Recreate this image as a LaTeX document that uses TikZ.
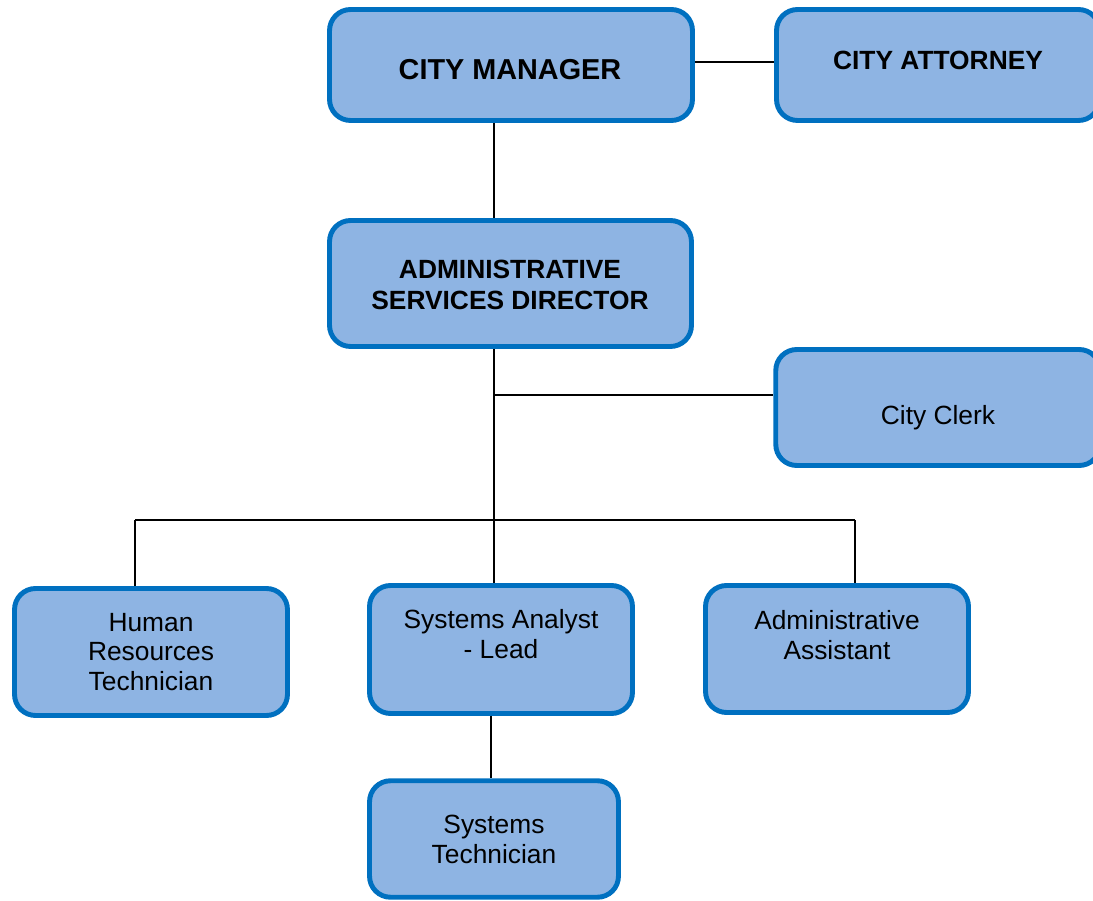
\documentclass[tikz,border=0pt]{standalone}
\usepackage{fontspec}
\setmainfont{Liberation Sans}
\usetikzlibrary{calc}

\definecolor{boxfill}{RGB}{142,180,227}
\definecolor{boxline}{RGB}{0,112,192}

\tikzset{
  box/.style={draw=boxline, fill=boxfill, line width=2.8pt, rounded corners=0.42cm},
  head/.style={font=\bfseries\fontsize{15}{17.5}\selectfont, align=center},
  staff/.style={font=\fontsize{15}{17}\selectfont, align=center},
  link/.style={line width=1.1pt}
}

\begin{document}
\begin{tikzpicture}[x=0.02cm, y=-0.02cm]
  \clip (0,0) rectangle (1093,901);
  %\draw[help lines, step=50] (0,0) grid (1093,901);

  % boxes
  \node[box, minimum width=7.26cm, minimum height=2.22cm] (cm) at (511,65) {};
  \node[box, minimum width=6.46cm, minimum height=2.22cm] (ca) at (938,65) {};
  \node[box, minimum width=7.24cm, minimum height=2.52cm] (asd) at (510.5,283.5) {};
  \node[box, minimum width=6.49cm, minimum height=2.32cm] (cc) at (938,407.5) {};
  \node[box, minimum width=5.46cm, minimum height=2.54cm] (hr) at (151,652) {};
  \node[box, minimum width=5.26cm, minimum height=2.56cm] (sal) at (501,649.5) {};
  \node[box, minimum width=5.26cm, minimum height=2.54cm] (aa) at (837,649) {};
  \node[box, minimum width=4.98cm, minimum height=2.33cm] (st) at (494,839) {};

  % titles
  \node[head, font=\bfseries\fontsize{16.4}{19}\selectfont] (cm-t) at (510,70) {CITY MANAGER};
  \node[head] (ca-t) at (938,60) {CITY ATTORNEY};
  \node[head] (asd-t) at (510,285) {ADMINISTRATIVE\\SERVICES DIRECTOR};
  \node[staff, anchor=base] (cc-t) at (938,425) {City Clerk};
  \node[staff] (hr-t) at (151,652) {Human\\Resources\\Technician};
  \node[staff] (sal-t) at (501,634) {Systems Analyst\\- Lead};
  \node[staff] (aa-t) at (837,635) {Administrative\\Assistant};
  \node[staff] (st-t) at (494,839) {Systems\\Technician};

  % reporting lines
  \coordinate (spine) at (494,0);
  \coordinate (tap) at (494,395);
  \coordinate (busL) at (135,520);
  \coordinate (busR) at (855,520);
  \coordinate (lead) at (491,0);

  \draw[link] (cm.east |- 0,62) -- (ca.west |- 0,62);
  \draw[link] (cm.south -| spine) -- (asd.north -| spine);
  \draw[link] (asd.south -| spine) -- (sal.north -| spine);
  \draw[link] (tap) -- (tap -| cc.west);
  \draw[link] (busL) -- (busR);
  \draw[link] (busL) -- (busL |- hr.north);
  \draw[link] (busR) -- (busR |- aa.north);
  \draw[link] (sal.south -| lead) -- (st.north -| lead);
\end{tikzpicture}
\end{document}
